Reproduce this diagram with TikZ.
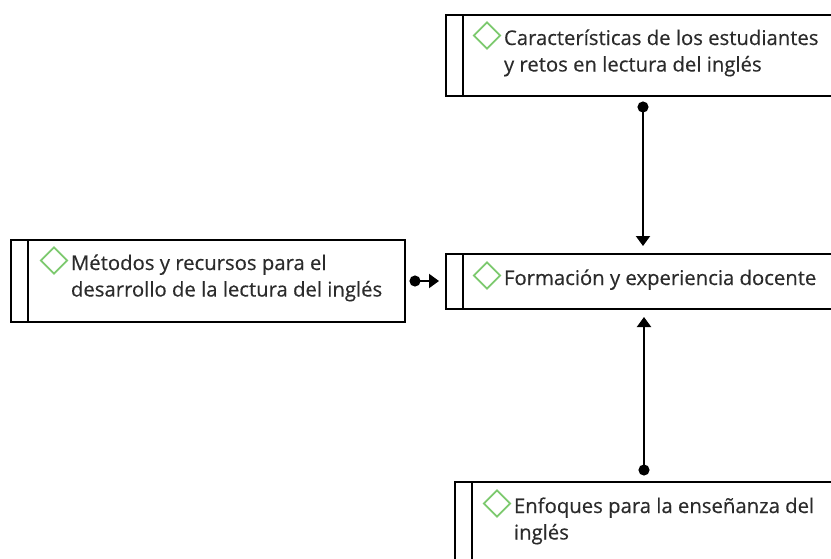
\documentclass[tikz,border=0pt]{standalone}
\usepackage{fontspec}
\setmainfont{Open Sans}
\usetikzlibrary{arrows.meta,shapes.geometric,positioning}
\definecolor{markgreen}{HTML}{7CC96E}
\definecolor{textgray}{HTML}{2B2B2B}

\begin{document}
\begin{tikzpicture}[x=1pt,y=-1pt,>={Triangle[width=14pt,length=10pt]},line width=2pt,
    box/.style={draw,rectangle,inner sep=0pt,
        path picture={\draw[line width=2pt] ([xshift=17pt]path picture bounding box.north west) -- ([xshift=17pt]path picture bounding box.south west);}},
    diam node/.style={diamond,draw=markgreen,line width=1.8pt,minimum size=27pt,inner sep=0pt},
    caption node/.style={anchor=base west,align=left,inner sep=0pt,text=textgray,font=\fontsize{20.3}{26.5}\selectfont\addfontfeature{FakeBold=0.4}},
    link/.style={{Circle[length=11pt]}->}]

    \useasboundingbox (0,0) rectangle (831,558);
    \clip (0,0) rectangle (831,558);

    % boxes
    \node[box,minimum width=400pt,minimum height=81pt] (1) at (646,55.5) {};
    \node[box,minimum width=400pt,minimum height=55pt] (2) at (646,281.5) {};
    \node[box,minimum width=394pt,minimum height=82pt] (3) at (208,281) {};
    \node[box,minimum width=400pt,minimum height=98pt] (4) at (655,531) {};

    % texts (base = last line)
    \node[caption node] (1t) at (503,71.5) {Características de los estudiantes\\y retos en lectura del inglés};
    \node[caption node] (2t) at (503,285) {Formación y experiencia docente};
    \node[caption node] (3t) at (70,296.5) {Métodos y recursos para el\\desarrollo de la lectura del inglés};
    \node[caption node] (4t) at (513,539.5) {Enfoques para la enseñanza del\\inglés};

    \node[diam node] (1m) at (487,35.5) {};
    \node[diam node] (2m) at (487,275.5) {};
    \node[diam node] (3m) at (54,260.5) {};
    \node[diam node] (4m) at (497,503.5) {};

    % links
    \draw[link,shorten <=4.5pt,shorten >=7pt] ([xshift=-3pt]1.south) -- ([xshift=-3pt]2.north);
    \draw[link,shorten <=5.5pt,shorten >=7pt] ([xshift=-11pt]4.north) -- ([xshift=-2pt]2.south);
    \draw[link,shorten <=3.5pt,shorten >=6pt] (3.east) -- (3.east -| 2.west);
\end{tikzpicture}
\end{document}
